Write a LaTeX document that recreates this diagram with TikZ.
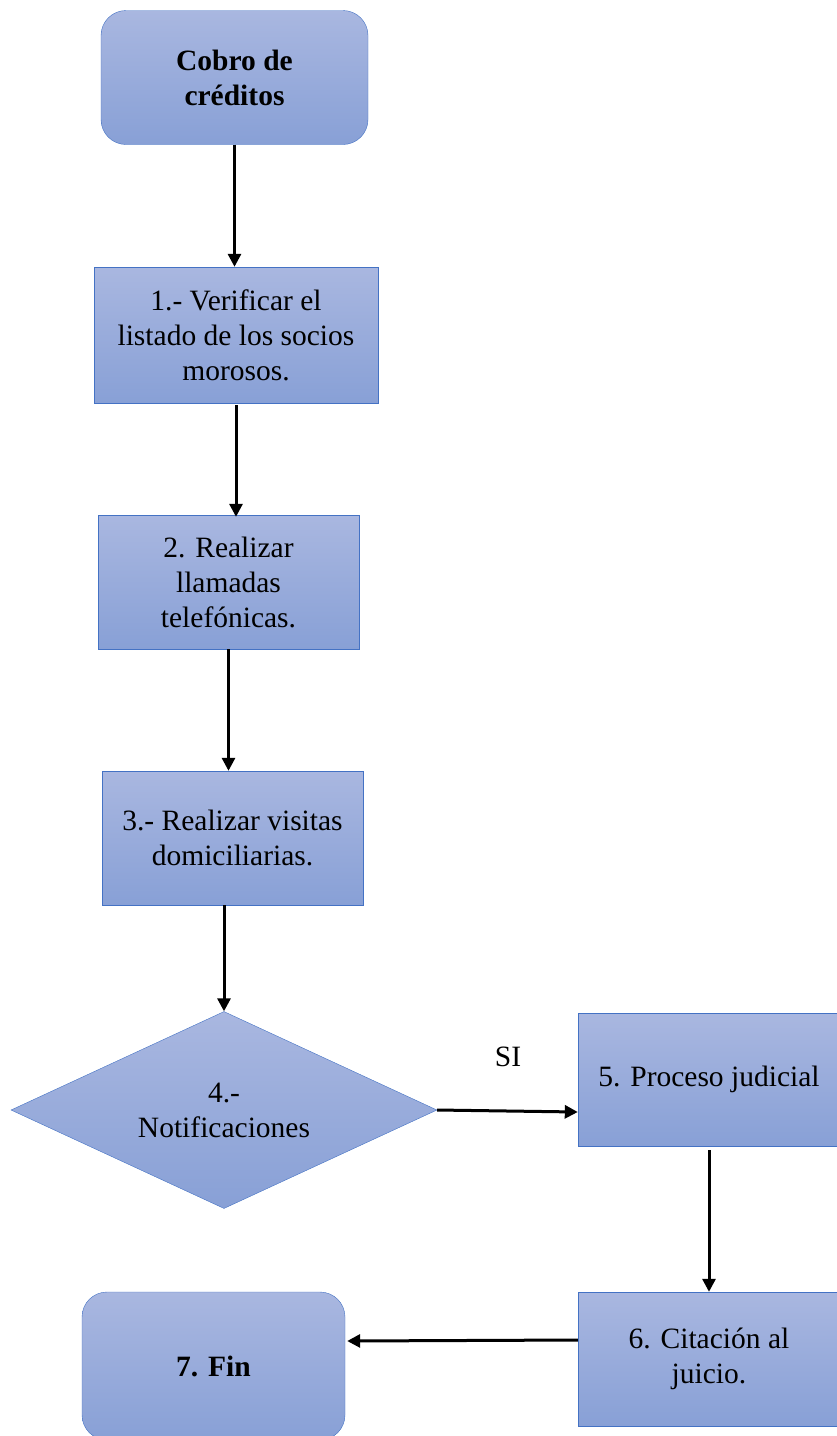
\documentclass[tikz,border=0pt]{standalone}
\usepackage{fontspec}
\setmainfont{Liberation Serif}
\newfontfamily\diagfont{Liberation Serif}
\usepackage{tikz}
\usetikzlibrary{shapes,arrows.meta,positioning,calc}
\definecolor{boxtop}{HTML}{A9B7E0}
\definecolor{boxbot}{HTML}{88A0D6}
\definecolor{boxline}{HTML}{4472C4}

\begin{document}
\begin{tikzpicture}[x=1pt, y=-1pt, font=\diagfont\fontsize{29.5}{35}\selectfont]
    \tikzstyle{process} = [rectangle, draw=boxline, top color=boxtop, bottom color=boxbot, align=center, minimum width=261pt, minimum height=134pt, inner sep=0pt]
    \tikzstyle{terminal} = [process, rounded corners=25pt, minimum width=267pt]
    \tikzstyle{decision} = [diamond, aspect=2.16, draw=boxline, top color=boxtop, bottom color=boxbot, align=center, minimum width=426pt, minimum height=197pt, inner sep=0pt]
    \tikzstyle{arrow} = [draw, -{Triangle[length=13pt,width=13pt]}, line width=3pt]
    \useasboundingbox (0,0) rectangle (837,1436);

    % Start
    \node[terminal] (start) at (234.5,77.5) {\textbf{Cobro de}\\\textbf{créditos}};

    % Steps
    \node[process, minimum width=284pt, minimum height=136pt] (listado) at (236,335) {1.- Verificar el\\listado de los socios\\morosos.};
    \node[process] (llamadas) at (228.5,582) {2. Realizar\\llamadas\\telefónicas.};
    \node[process] (visitas) at (232.5,838) {3.- Realizar visitas\\domiciliarias.};

    % Decision
    \node[decision] (notif) at (224,1110) {4.-\\Notificaciones};

    % Judicial branch
    \node[process, minimum width=262pt, minimum height=133pt] (judicial) at (709,1079.5) {5. Proceso judicial};
    \node[process, minimum width=262pt] (citacion) at (709,1359) {6. Citación al\\juicio.};

    % End
    \node[terminal, minimum width=263pt, minimum height=148pt] (fin) at (213.5,1366) {\textbf{7. Fin}};

    % Arrows
    \draw[arrow] (start.south) -- (start.south |- listado.north);
    \draw[arrow] ([yshift=-2pt]listado.south) -- ([yshift=-2pt]listado.south |- llamadas.north);
    \draw[arrow] (llamadas.south) -- (llamadas.south |- visitas.north);
    \draw[arrow] (visitas.south -| notif.north) -- (notif.north);
    \draw[arrow] (notif.east) -- ([yshift=-2pt]notif.east -| judicial.west);
    \draw[arrow] ([yshift=-4pt]judicial.south) -- (judicial.south |- citacion.north);
    \draw[arrow] ([yshift=19pt]citacion.west) -- ([yshift=25pt,xshift=2pt]fin.east);

    % Labels
    \node (si) at (508,1057) {SI};
\end{tikzpicture}
\end{document}
